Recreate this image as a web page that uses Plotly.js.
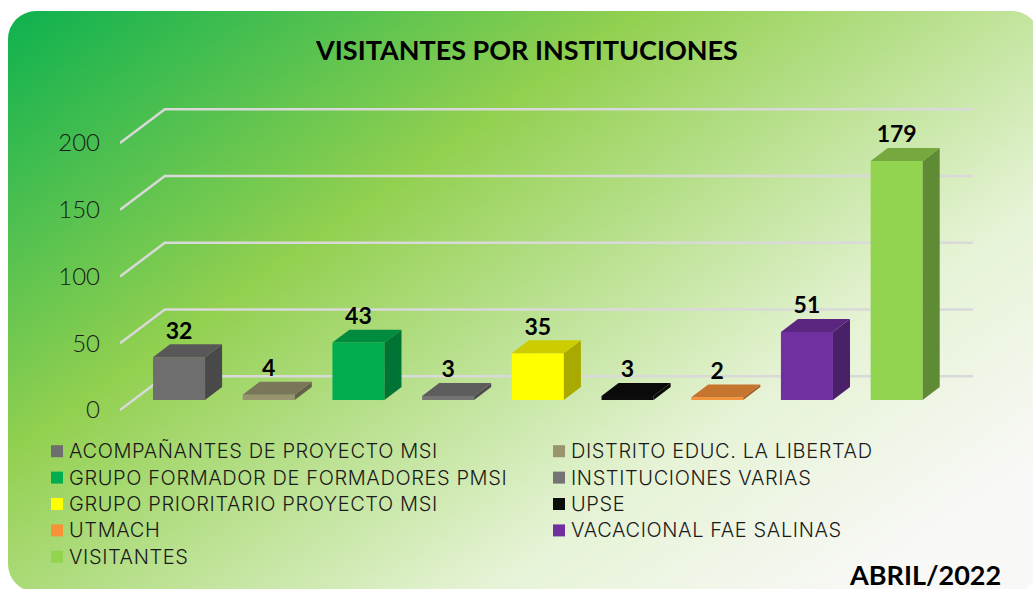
<!DOCTYPE html>
<html>
<head>
<meta charset="utf-8">
<script src="https://cdn.plot.ly/plotly-3.0.1.min.js"></script>
<style>
    html, body { margin: 0; padding: 0; background: #fff; overflow: hidden; }
    #wrap { position: relative; width: 1033px; height: 589px; overflow: hidden; }
    #card {
        position: absolute; left: 8px; top: 11px; width: 1032px; height: 581px;
        border-radius: 28px;
        background: linear-gradient(145deg, #0db14f 0%, #92d050 34%, #e6f3d6 70%, #f8f8f6 90%);
    }
    #graph { position: absolute; left: 0; top: 0; width: 1033px; height: 589px; }
    /* row height comes from legend.font.size, the wider lettering only from here */
    .legendtext { font-size: 20px !important; letter-spacing: 0.6px; }
    .legendsymbols { transform: translateX(8px); }
</style>
</head>
<body>
<div id="wrap">
    <div id="card"></div>
    <div id="graph"></div>
</div>
<script>
const categories = ['ACOMPAÑANTES DE PROYECTO MSI', 'DISTRITO EDUC. LA LIBERTAD', 'GRUPO FORMADOR DE FORMADORES PMSI',
    'INSTITUCIONES VARIAS', 'GRUPO PRIORITARIO PROYECTO MSI', 'UPSE', 'UTMACH', 'VACACIONAL FAE SALINAS', 'VISITANTES'];
const visitors = [32, 4, 43, 3, 35, 3, 2, 51, 179];
const frontColors = ['#6e6e6e', '#97946f', '#00ae4f', '#747474', '#ffff00', '#0d0d0d', '#f79239', '#7030a0', '#92d350'];
const topColors = ['#585858', '#797659', '#008b3f', '#5d5d5d', '#cccc00', '#0a0a0a', '#c6752e', '#5a2680', '#75a940'];
const sideColors = ['#494949', '#636149', '#007434', '#4d4d4d', '#a9a900', '#080808', '#a46126', '#4a2069', '#608b35'];
const axisTicks = [0, 50, 100, 150, 200];

const FONT = 'Lato, "Noto Sans", sans-serif';
const LEGEND_FONT = 'Inter, Lato, sans-serif';
const barWidth = 0.58;
const depthX = 0.19;     // bar depth, in category units
const depthY = 9.7;      // bar depth, in value units
const wallX = 0.5;       // wall offset behind the axis
const wallY = 25.3;
const xMin = -0.658;
const wallEnd = 8.85;
const xMax = 9.52;       // plot runs to the right edge so the legend gets two columns

let traces = [];

// walls: each gridline goes back from the axis, then across
axisTicks.forEach(t => {
    traces.push({
        type: 'scatter', mode: 'lines', yaxis: 'y', xaxis: 'x',
        x: [xMin, xMin + wallX, wallEnd],
        y: [t, t + wallY, t + wallY],
        line: { color: '#d9d9d9', width: 2.5 },
        hoverinfo: 'skip', showlegend: false
    });
});

// front faces
categories.forEach((name, i) => {
    traces.push({
        type: 'bar', yaxis: 'y2', xaxis: 'x', name: name,
        x: [i], y: [visitors[i]], width: barWidth,
        marker: { color: frontColors[i], line: { width: 0 } }
    });
});

// side and top faces
categories.forEach((name, i) => {
    let v = visitors[i];
    let xl = i - barWidth / 2;
    let xr = i + barWidth / 2;
    traces.push({
        type: 'scatter', mode: 'lines', yaxis: 'y2', xaxis: 'x', fill: 'toself',
        x: [xr, xr + depthX, xr + depthX, xr, xr],
        y: [0, depthY, v + depthY, v, 0],
        fillcolor: sideColors[i], line: { width: 0, color: sideColors[i] },
        hoverinfo: 'skip', showlegend: false
    });
    traces.push({
        type: 'scatter', mode: 'lines', yaxis: 'y2', xaxis: 'x', fill: 'toself',
        x: [xl, xl + depthX, xr + depthX, xr, xl],
        y: [v, v + depthY, v + depthY, v, v],
        fillcolor: topColors[i], line: { width: 0, color: topColors[i] },
        hoverinfo: 'skip', showlegend: false
    });
});

// value labels
traces.push({
    type: 'scatter', mode: 'text', yaxis: 'y2', xaxis: 'x',
    x: categories.map((c, i) => i),
    y: visitors.map(v => v + depthY),
    text: visitors.map(String),
    textposition: 'top center',
    textfont: { family: FONT, size: 23, color: '#000', weight: 700 },
    hoverinfo: 'skip', showlegend: false
});

const pxPerUnit = 1.335;
const plotLeft = 120, plotTop = 90, plotBottom = 420;
const frontZero = 410, barZero = 400;
const plotW = 1033 - plotLeft, plotH = plotBottom - plotTop;
function rangeFor(zero) {
    return [(zero - plotBottom) / pxPerUnit, (zero - plotTop) / pxPerUnit];
}

let layout = {
    width: 1033, height: 589,
    paper_bgcolor: 'rgba(0,0,0,0)',
    plot_bgcolor: 'rgba(0,0,0,0)',
    margin: { l: plotLeft, r: 0, t: plotTop, b: 589 - plotBottom, pad: 0 },
    title: {
        text: '<b>VISITANTES POR INSTITUCIONES</b>',
        font: { family: FONT, size: 27, color: '#000' },
        xref: 'paper', x: (527 - plotLeft) / plotW, xanchor: 'center',
        yref: 'container', y: 1 - 51 / 589, yanchor: 'middle'
    },
    barmode: 'overlay',
    showlegend: true,
    legend: {
        orientation: 'h',
        x: (32 - plotLeft) / plotW, xanchor: 'left',
        y: (plotBottom - 433) / plotH, yanchor: 'top',
        entrywidth: 457, entrywidthmode: 'pixels',
        traceorder: 'normal', itemclick: false, itemdoubleclick: false,
        bgcolor: 'rgba(0,0,0,0)',
        font: { family: LEGEND_FONT, size: 18, color: '#1a1a1a', weight: 300 }
    },
    xaxis: { range: [xMin, xMax], visible: false, fixedrange: true },
    yaxis: {
        range: rangeFor(frontZero), tickvals: axisTicks, ticktext: axisTicks.map(String),
        showgrid: false, zeroline: false, showline: false, ticks: '',
        ticklabelstandoff: 19,
        tickfont: { family: FONT, size: 24, color: '#1a1a1a', weight: 300 }, fixedrange: true
    },
    yaxis2: {
        range: rangeFor(barZero), overlaying: 'y', visible: false, fixedrange: true
    },
    annotations: [{
        text: '<b>ABRIL/2022</b>', showarrow: false,
        xref: 'paper', x: (1003 - plotLeft) / plotW, xanchor: 'right',
        yref: 'paper', y: (plotBottom - 574) / plotH, yanchor: 'middle',
        font: { family: FONT, size: 27, color: '#000' }
    }]
};

Plotly.newPlot('graph', traces, layout, { displayModeBar: false });
</script>
</body>
</html>
